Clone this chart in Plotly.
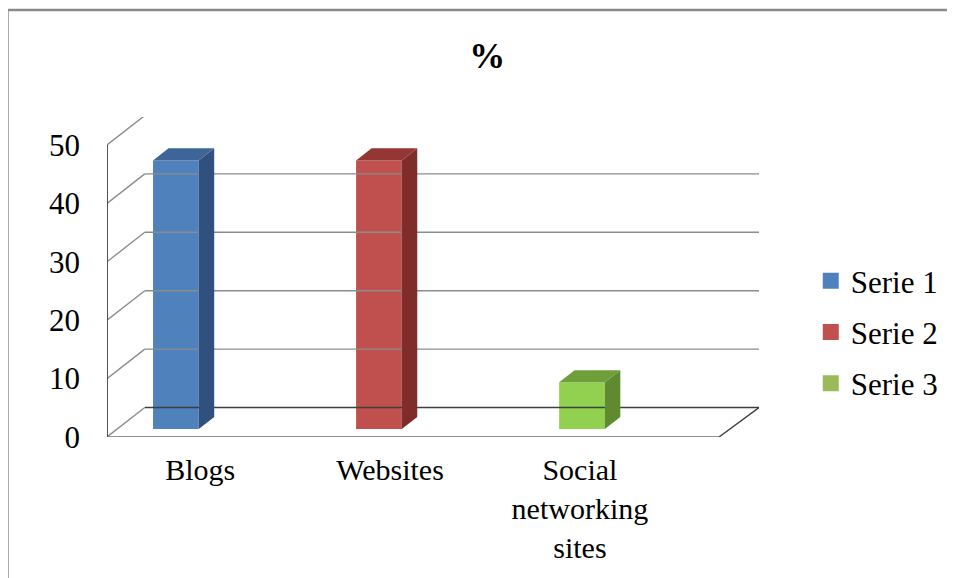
import plotly.graph_objects as go

# ---- data ----
categories = ["Blogs", "Websites", "Social<br>networking<br>sites"]
series_names = ["Serie 1", "Serie 2", "Serie 3"]
values = [46, 46, 8]
y_ticks = [0, 10, 20, 30, 40, 50]

# ---- styles ----
front_colors = ["#4F81BD", "#C0504D", "#92D050"]
top_colors = ["#3D6598", "#943634", "#6E9F3A"]
side_colors = ["#30517D", "#7F2C2A", "#5E8A30"]
legend_colors = ["#4F81BD", "#C0504D", "#9BBB59"]
FONT = "Liberation Serif"

# page body margin compensation (px)
OFF = 8
W, H = 955 - OFF, 578 - OFF

# pseudo-3D geometry (in axis units)
DX = 0.186      # full depth offset, x units (1 unit = category spacing)
DY = 5.05       # full depth offset, y units
F0, F1 = 0.27, 0.68   # bar front / back depth fractions
BW = 0.225      # bar front-face width
X_LEFT = -0.289
X_RIGHT = 2.922
X_FLOOR_END = 2.725
Y_MAX = 50

# plot area in reference pixels
PL, PR, PT, PB = 107, 762, 117, 437
PW, PH = PR - PL, PB - PT

def px_x(p):
    return (p - PL) / PW

def px_y(p):
    return (PB - p) / PH

fig = go.Figure()

grid_c = "#8C8C8C"
dark_c = "#3F3F3F"

def line(xs, ys, color, width=1.5):
    fig.add_trace(go.Scatter(x=xs, y=ys, mode="lines", line=dict(color=color, width=width),
                             hoverinfo="skip", showlegend=False))

# back wall gridlines + left wall diagonals
for t in y_ticks:
    c = dark_c if t == 0 else grid_c
    line([X_LEFT + DX, X_RIGHT], [t + DY, t + DY], c, 1.6 if t == 0 else 1.4)
    line([X_LEFT, X_LEFT + DX], [t, t + DY], grid_c, 1.4)
# floor front edge + right diagonal
line([X_LEFT, X_FLOOR_END], [0, 0], "#6E6E6E", 1.6)
line([X_FLOOR_END, X_RIGHT], [0, DY], dark_c, 1.4)
# front vertical axis
line([X_LEFT, X_LEFT], [0, Y_MAX], dark_c, 1.8)

# bars
dd = F1 - F0
for i, v in enumerate(values):
    xc = i + F0 * DX
    base = F0 * DY
    top = base + v
    xl, xr = xc - BW / 2, xc + BW / 2
    fig.add_trace(go.Bar(x=[xc], y=[v], base=[base], width=[BW],
                         marker=dict(color=front_colors[i], line=dict(width=0)),
                         showlegend=False, hoverinfo="skip"))
    # side face
    fig.add_trace(go.Scatter(
        x=[xr, xr + dd * DX, xr + dd * DX, xr, xr],
        y=[base, base + dd * DY, top + dd * DY, top, base],
        mode="lines", fill="toself", fillcolor=side_colors[i],
        line=dict(width=0, color=side_colors[i]), showlegend=False, hoverinfo="skip"))
    # top face
    fig.add_trace(go.Scatter(
        x=[xl, xr, xr + dd * DX, xl + dd * DX, xl],
        y=[top, top, top + dd * DY, top + dd * DY, top],
        mode="lines", fill="toself", fillcolor=top_colors[i],
        line=dict(width=0, color=top_colors[i]), showlegend=False, hoverinfo="skip"))

# legend-only traces
for i, name in enumerate(series_names):
    fig.add_trace(go.Scatter(x=[None], y=[None], mode="markers", name=name,
                             legendgroup=name,
                             marker=dict(symbol="square", size=16, color=legend_colors[i])))

label_pos = [0.17 + 0.935 * i for i in range(len(categories))]

fig.update_layout(
    width=W, height=H,
    margin=dict(l=PL - OFF, r=W - (PR - OFF), t=PT - OFF, b=H - (PB - OFF)),
    paper_bgcolor="white", plot_bgcolor="white",
    font=dict(family=FONT, size=30, color="black"),
    barmode="overlay",
    title=dict(text="<b>%</b>", x=px_x(489), xref="paper", xanchor="center",
               y=1 - (55 - OFF) / H, yanchor="middle", font=dict(size=36, family=FONT)),
    xaxis=dict(range=[X_LEFT, X_RIGHT], showgrid=False, zeroline=False, showline=False,
               tickmode="array", tickvals=label_pos, ticktext=categories,
               ticks="", ticklabelstandoff=12, tickfont=dict(size=30, family=FONT)),
    yaxis=dict(range=[0, PH / 5.84], showgrid=False, zeroline=False, showline=False,
               tickmode="array", tickvals=y_ticks, ticktext=[str(t) for t in y_ticks],
               ticks="", ticklabelstandoff=26, tickfont=dict(size=31, family=FONT)),
    legend=dict(x=px_x(814), y=px_y(332), xanchor="left", yanchor="middle",
                font=dict(size=31, family=FONT), traceorder="grouped", tracegroupgap=8,
                bgcolor="rgba(0,0,0,0)", itemsizing="trace"),
    shapes=[
        dict(type="line", xref="paper", yref="paper",
             x0=px_x(7), x1=px_x(970), y0=px_y(10), y1=px_y(10),
             line=dict(color="#8A8A8A", width=2.5)),
        dict(type="line", xref="paper", yref="paper",
             x0=px_x(7), x1=px_x(7), y0=px_y(10), y1=px_y(600),
             line=dict(color="#8A8A8A", width=2.5)),
    ],
)

fig.write_html("out.html")
